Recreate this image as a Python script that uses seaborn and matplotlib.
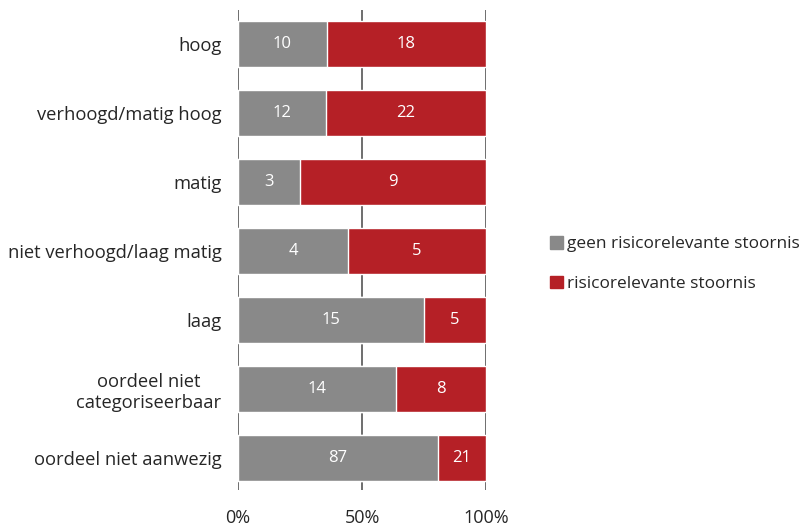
import pandas as pd
import seaborn as sns
import matplotlib.pyplot as plt
from matplotlib.patches import Patch

categories = ["hoog", "verhoogd/matig hoog", "matig", "niet verhoogd/laag matig",
              "laag", "oordeel niet\ncategoriseerbaar", "oordeel niet aanwezig"]
geen = [10, 12, 3, 4, 15, 14, 87]
risico = [18, 22, 9, 5, 5, 8, 21]

grey = "#898989"
red = "#b52026"

df = pd.DataFrame({"categorie": categories, "geen": geen, "risico": risico})
df["totaal"] = df["geen"] + df["risico"]
df["geen_pct"] = df["geen"] / df["totaal"] * 100
df["tot_pct"] = 100.0

sns.set_style("white")
plt.rcParams["font.family"] = ["Open Sans", "DejaVu Sans"]

fig = plt.figure(figsize=(8.1, 5.29), dpi=100)
ax = fig.add_axes([238 / 810, 1 - 490 / 529, 248 / 810, 480 / 529])

sns.barplot(data=df, y="categorie", x="tot_pct", color=red, width=0.66,
            saturation=1, ax=ax, zorder=3)
sns.barplot(data=df, y="categorie", x="geen_pct", color=grey, width=0.66,
            saturation=1, ax=ax, zorder=3)

for i, row in df.iterrows():
    ax.text(row["geen_pct"] / 2, i, str(row["geen"]), color="white",
            ha="center", va="center", fontsize=12, zorder=4)
    ax.text((row["geen_pct"] + 100) / 2, i, str(row["risico"]), color="white",
            ha="center", va="center", fontsize=12, zorder=4)

ax.set_xlim(0, 100)
ax.set_ylim(6.46, -0.49)
ax.set_xticks([0, 50, 100])
ax.set_xticklabels(["0%", "50%", "100%"])
ax.xaxis.grid(True, color="#555555", linewidth=1.2, zorder=1)
ax.set_axisbelow(True)
for s in ax.spines.values():
    s.set_visible(False)
ax.tick_params(axis="x", labelsize=13, pad=14, length=0)
ax.tick_params(axis="y", labelsize=13.2, pad=12, length=0)
ax.set_xlabel("")
ax.set_ylabel("")
for lbl in ax.get_yticklabels():
    lbl.set_horizontalalignment("right")
    lbl.set_multialignment("center")

handles = [Patch(color=grey, label="geen risicorelevante stoornis"),
           Patch(color=red, label="risicorelevante stoornis")]
fig.legend(handles=handles, loc="center left", bbox_to_anchor=(540 / 810, 1 - 264 / 529),
           frameon=False, fontsize=12.4, handlelength=0.75, handleheight=0.75,
           handletextpad=0.2, labelspacing=1.35, borderaxespad=0.2)

fig.savefig("out.png", dpi=100)
